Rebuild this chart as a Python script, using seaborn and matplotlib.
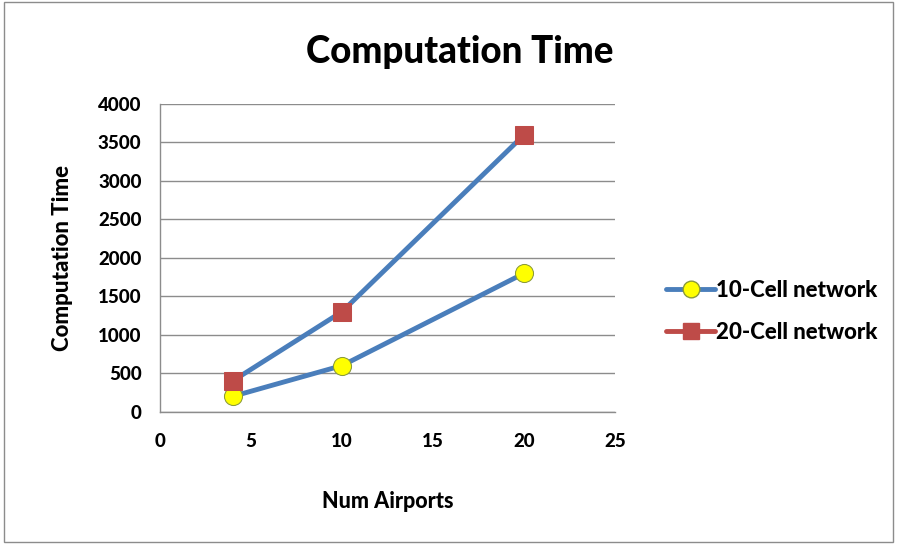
import numpy as np
import pandas as pd
import matplotlib
matplotlib.use('Agg')
import matplotlib.pyplot as plt
import seaborn as sns
from matplotlib.lines import Line2D
from matplotlib.patches import Rectangle

# 数据
airports = [4, 10, 20]
cell10 = [200, 600, 1800]
cell20 = [400, 1300, 3600]
series_names = ['10-Cell network', '20-Cell network']

df = pd.DataFrame({
    'Num Airports': airports * 2,
    'Computation Time': cell10 + cell20,
    'series': [series_names[0]] * 3 + [series_names[1]] * 3,
})

sns.set_style('white')
plt.rcParams['font.family'] = ['Lato', 'DejaVu Sans']
plt.rcParams['text.color'] = 'black'
plt.rcParams['xtick.color'] = 'black'
plt.rcParams['ytick.color'] = 'black'
plt.rcParams['axes.labelcolor'] = 'black'
W = 900

blue = '#4A7EBB'
red = '#BE4B48'

fig = plt.figure(figsize=(8.97, 5.44), dpi=100)
ax = fig.add_axes([0.178, 0.243, 0.508, 0.566])

sns.lineplot(data=df, x='Num Airports', y='Computation Time', hue='series',
             style='series', markers={series_names[0]: 'o', series_names[1]: 's'},
             dashes=False, palette={series_names[0]: blue, series_names[1]: blue},
             linewidth=3.5, markersize=13, legend=False, ax=ax)
# 标记颜色
ax.lines[0].set_markerfacecolor('#FFFF00')
ax.lines[0].set_markeredgecolor('#8A9A3A')
ax.lines[1].set_markerfacecolor(red)
ax.lines[1].set_markeredgecolor(red)

ax.set_xlim(0, 25)
ax.set_ylim(0, 4000)
ax.set_xticks(range(0, 26, 5))
ax.set_yticks(range(0, 4001, 500))
ax.yaxis.grid(True, color='#8C8C8C', linewidth=1)
ax.xaxis.grid(False)
for s in ['top', 'right']:
    ax.spines[s].set_visible(False)
for s in ['left', 'bottom']:
    ax.spines[s].set_color('#8C8C8C')
    ax.spines[s].set_linewidth(1)
ax.tick_params(axis='both', direction='out', length=5, color='#8C8C8C',
               labelsize=13.5, pad=8)
ax.tick_params(axis='x', pad=10)
for lab in ax.get_xticklabels() + ax.get_yticklabels():
    lab.set_fontweight(W)

ax.set_xlabel('Num Airports', fontsize=15.5, fontweight=W, labelpad=30)
ax.set_ylabel('Computation Time', fontsize=16, fontweight=W, labelpad=18)
fig.text(0.512, 0.905, 'Computation Time', ha='center', va='center',
         fontsize=26.5, fontweight=W)

handles = [
    Line2D([0], [0], color=blue, linewidth=3.5, marker='o', markersize=12,
           markerfacecolor='#FFFF00', markeredgecolor='#8A9A3A'),
    Line2D([0], [0], color=red, linewidth=3.5, marker='s', markersize=12,
           markerfacecolor=red, markeredgecolor=red),
]
fig.legend(handles, series_names, loc='center left', bbox_to_anchor=(0.743, 0.427),
           frameon=False, handlelength=2.2, handletextpad=0.05,
           labelspacing=0.95, borderaxespad=0, borderpad=0,
           prop={'weight': W, 'size': 16})

fig.patches.append(Rectangle((0.004, 0.004), 0.992, 0.992, transform=fig.transFigure,
                             fill=False, edgecolor='#8C8C8C', linewidth=1))

fig.savefig('out.png', dpi=100)
